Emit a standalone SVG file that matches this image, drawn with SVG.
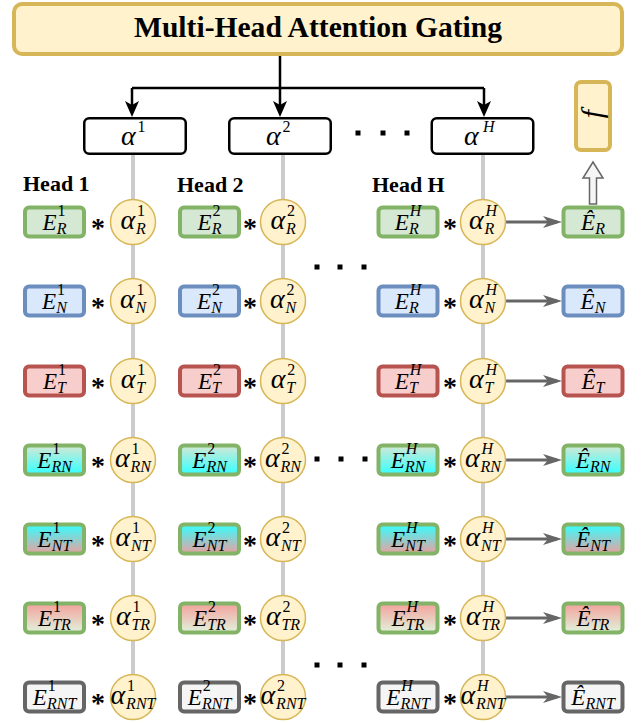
<svg xmlns="http://www.w3.org/2000/svg" width="641" height="723" viewBox="0 0 641 723" font-family="'Liberation Serif', Tinos, 'DejaVu Serif', 'Noto Serif', serif">
<style>
.bx{stroke-width:4}
.g{fill:#d5e8d4;stroke:#82b366}
.b{fill:#dae8fc;stroke:#6c8ebf}
.r{fill:#f8cecc;stroke:#b85450}
.rn{fill:url(#gRN);stroke:#82b366}
.nt{fill:url(#gNT);stroke:#82b366}
.tr{fill:url(#gTR);stroke:#82b366}
.rnt{fill:#f5f5f5;stroke:#666666}
.c{fill:#fff2cc;stroke:#d6b656;stroke-width:1.5}
.ab{fill:#ffffff;stroke:#000000;stroke-width:2.5}
.m{font-style:italic;font-size:23px}
.al{font-style:italic;font-size:28px}
.sp{font-size:16px;font-style:normal}
.si{font-size:16px;font-style:italic}
.st{font-weight:bold;font-size:28px;text-anchor:middle}
.hd{font-weight:bold;font-size:22px}
.ttl{font-weight:bold;font-size:29px;text-anchor:middle}
.blk{fill:none;stroke:#000;stroke-width:2.5}
.gl{fill:none;stroke:#cccccc;stroke-width:4}
.ga{fill:none;stroke:#666666;stroke-width:3}
</style>
<defs>
<linearGradient id="gRN" x1="0" y1="0" x2="0" y2="1"><stop offset="0" stop-color="#d5e8d4"/><stop offset="1" stop-color="#33ffff"/></linearGradient>
<linearGradient id="gNT" x1="0" y1="0" x2="0" y2="1"><stop offset="0" stop-color="#33ffff"/><stop offset="1" stop-color="#eaa0a0"/></linearGradient>
<linearGradient id="gTR" x1="0" y1="0" x2="0" y2="1"><stop offset="0" stop-color="#f4a09c"/><stop offset="1" stop-color="#e0f3dc"/></linearGradient>
<marker id="ah" markerUnits="userSpaceOnUse" markerWidth="16" markerHeight="14" refX="11" refY="7" orient="auto"><path d="M0,0 L16,7 L0,14 L4,7 Z" fill="#000"/></marker>
<marker id="ag" markerUnits="userSpaceOnUse" markerWidth="19" markerHeight="12" refX="14" refY="6" orient="auto"><path d="M0,0 L19,6 L0,12 L5,6 Z" fill="#666666"/></marker>
</defs>

<g id="connectors">
<path class="gl" d="M133,155 V697 M283,155 V697 M483,155 V697"/>
<path class="blk" d="M280,56 V88 M132,88 H484"/>
<path class="blk" d="M132,88 V112" marker-end="url(#ah)"/>
<path class="blk" d="M280,88 V112" marker-end="url(#ah)"/>
<path class="blk" d="M484,88 V112" marker-end="url(#ah)"/>
<path class="ga" d="M506,222 H557" marker-end="url(#ag)"/>
<path class="ga" d="M506,301 H557" marker-end="url(#ag)"/>
<path class="ga" d="M506,381 H557" marker-end="url(#ag)"/>
<path class="ga" d="M506,460 H557" marker-end="url(#ag)"/>
<path class="ga" d="M506,539 H557" marker-end="url(#ag)"/>
<path class="ga" d="M506,618 H557" marker-end="url(#ag)"/>
<path class="ga" d="M506,697 H557" marker-end="url(#ag)"/>
<path d="M589.5,204 V178 H583 L593,162 L603,178 H596.5 V204 Z" fill="#f5f5f5" stroke="#666666" stroke-width="1.5"/>
</g>

<g id="gating">
<rect x="14" y="4" width="608" height="50" rx="8" fill="#fff2cc" stroke="#d6b656" stroke-width="4"/>
<text class="ttl" x="318" y="37" textLength="368" lengthAdjust="spacingAndGlyphs">Multi-Head Attention Gating</text>
</g>

<g id="f-box">
<rect x="576" y="82" width="34" height="68" rx="5" fill="#fff2cc" stroke="#d6b656" stroke-width="4"/>
<text class="al" transform="translate(593,114) rotate(-90)" x="0" y="9" text-anchor="middle" style="font-size:30px">f</text>
</g>

<g id="alpha-1"><rect class="ab" x="84.25" y="118.25" width="101.5" height="35.5" rx="5"/><text class="al" x="121" y="145">α<tspan class="sp" x="137.5" y="132">1</tspan></text></g>
<g id="alpha-2"><rect class="ab" x="229.25" y="118.25" width="101.5" height="35.5" rx="5"/><text class="al" x="266" y="145">α<tspan class="sp" x="282.5" y="132">2</tspan></text></g>
<g id="alpha-H"><rect class="ab" x="431.75" y="118.25" width="101.5" height="35.5" rx="5"/><text class="al" x="464" y="145">α<tspan class="si" x="483" y="132">H</tspan></text></g>

<g id="dots">
<rect x="355.5" y="130.5" width="5" height="5"/><rect x="380.5" y="130.5" width="5" height="5"/><rect x="404.5" y="130.5" width="5" height="5"/>
<rect x="314.5" y="264.5" width="5" height="5"/><rect x="337.5" y="264.5" width="5" height="5"/><rect x="361.5" y="264.5" width="5" height="5"/>
<rect x="314.5" y="456.5" width="5" height="5"/><rect x="338.5" y="456.5" width="5" height="5"/><rect x="362.5" y="456.5" width="5" height="5"/>
<rect x="314.5" y="662.5" width="5" height="5"/><rect x="337.5" y="662.5" width="5" height="5"/><rect x="361.5" y="662.5" width="5" height="5"/>
</g>

<g id="head-labels">
<text class="hd" x="23" y="191">Head 1</text>
<text class="hd" x="177" y="192">Head 2</text>
<text class="hd" x="372" y="192">Head H</text>
</g>

<g id="stars">
<text class="st" x="98" y="237">*</text><text class="st" x="250" y="237">*</text><text class="st" x="450" y="237">*</text>
<text class="st" x="98" y="316">*</text><text class="st" x="250" y="316">*</text><text class="st" x="450" y="316">*</text>
<text class="st" x="98" y="396">*</text><text class="st" x="250" y="396">*</text><text class="st" x="450" y="396">*</text>
<text class="st" x="98" y="475">*</text><text class="st" x="250" y="475">*</text><text class="st" x="450" y="475">*</text>
<text class="st" x="98" y="554">*</text><text class="st" x="250" y="554">*</text><text class="st" x="450" y="554">*</text>
<text class="st" x="98" y="633">*</text><text class="st" x="250" y="633">*</text><text class="st" x="450" y="633">*</text>
<text class="st" x="98" y="712">*</text><text class="st" x="250" y="712">*</text><text class="st" x="450" y="712">*</text>
</g>

<!-- Head 1 embeddings -->
<g id="E-R-1" transform="translate(54.5,222)"><rect class="bx g" x="-29.5" y="-14.5" width="59" height="29" rx="4"/><text class="m" x="-12" y="8">E<tspan class="sp" x="3" y="-6">1</tspan><tspan class="si" x="2.2" y="12">R</tspan></text></g>
<g id="E-N-1" transform="translate(54.5,301)"><rect class="bx b" x="-29.5" y="-14.5" width="59" height="29" rx="4"/><text class="m" x="-12.4" y="8">E<tspan class="sp" x="2.6" y="-6">1</tspan><tspan class="si" x="1.8" y="12">N</tspan></text></g>
<g id="E-T-1" transform="translate(54.5,381)"><rect class="bx r" x="-29.5" y="-14.5" width="59" height="29" rx="4"/><text class="m" x="-11.6" y="8">E<tspan class="sp" x="3.4" y="-6">1</tspan><tspan class="si" x="2.6" y="12">T</tspan></text></g>
<g id="E-RN-1" transform="translate(54.5,460)"><rect class="bx rn" x="-29.5" y="-14.5" width="59" height="29" rx="4"/><text class="m" x="-17.3" y="8">E<tspan class="sp" x="-2.3" y="-6">1</tspan><tspan class="si" x="-3.1" y="12">RN</tspan></text></g>
<g id="E-NT-1" transform="translate(54.5,539)"><rect class="bx nt" x="-29.5" y="-14.5" width="59" height="29" rx="4"/><text class="m" x="-16.9" y="8">E<tspan class="sp" x="-1.9" y="-6">1</tspan><tspan class="si" x="-2.7" y="12">NT</tspan></text></g>
<g id="E-TR-1" transform="translate(54.5,618)"><rect class="bx tr" x="-29.5" y="-14.5" width="59" height="29" rx="4"/><text class="m" x="-16.5" y="8">E<tspan class="sp" x="-1.5" y="-6">1</tspan><tspan class="si" x="-2.3" y="12">TR</tspan></text></g>
<g id="E-RNT-1" transform="translate(54.5,697)"><rect class="bx rnt" x="-29.5" y="-14.5" width="59" height="29" rx="4"/><text class="m" x="-21.7" y="8">E<tspan class="sp" x="-6.7" y="-6">1</tspan><tspan class="si" x="-7.5" y="12">RNT</tspan></text></g>

<!-- Head 1 gates -->
<g id="a-R-1" transform="translate(133,222)"><circle class="c" r="22.5"/><text class="al" x="-12.6" y="7">α<tspan class="sp" x="3.9" y="-6">1</tspan><tspan class="si" x="2.9" y="12">R</tspan></text></g>
<g id="a-N-1" transform="translate(133,301)"><circle class="c" r="22.5"/><text class="al" x="-13.1" y="7">α<tspan class="sp" x="3.4" y="-6">1</tspan><tspan class="si" x="2.4" y="12">N</tspan></text></g>
<g id="a-T-1" transform="translate(133,381)"><circle class="c" r="22.5"/><text class="al" x="-12.2" y="7">α<tspan class="sp" x="4.3" y="-6">1</tspan><tspan class="si" x="3.3" y="12">T</tspan></text></g>
<g id="a-RN-1" transform="translate(133,460)"><circle class="c" r="22.5"/><text class="al" x="-18" y="7">α<tspan class="sp" x="-1.5" y="-6">1</tspan><tspan class="si" x="-2.5" y="12">RN</tspan></text></g>
<g id="a-NT-1" transform="translate(133,539)"><circle class="c" r="22.5"/><text class="al" x="-17.5" y="7">α<tspan class="sp" x="-1" y="-6">1</tspan><tspan class="si" x="-2" y="12">NT</tspan></text></g>
<g id="a-TR-1" transform="translate(133,618)"><circle class="c" r="22.5"/><text class="al" x="-17.1" y="7">α<tspan class="sp" x="-0.6" y="-6">1</tspan><tspan class="si" x="-1.6" y="12">TR</tspan></text></g>
<g id="a-RNT-1" transform="translate(133,697)"><circle class="c" r="22.5"/><text class="al" x="-22.4" y="7">α<tspan class="sp" x="-5.9" y="-6">1</tspan><tspan class="si" x="-6.9" y="12">RNT</tspan></text></g>

<!-- Head 2 embeddings -->
<g id="E-R-2" transform="translate(209.5,222)"><rect class="bx g" x="-29.5" y="-14.5" width="59" height="29" rx="4"/><text class="m" x="-12" y="8">E<tspan class="sp" x="3" y="-6">2</tspan><tspan class="si" x="2.2" y="12">R</tspan></text></g>
<g id="E-N-2" transform="translate(209.5,301)"><rect class="bx b" x="-29.5" y="-14.5" width="59" height="29" rx="4"/><text class="m" x="-12.4" y="8">E<tspan class="sp" x="2.6" y="-6">2</tspan><tspan class="si" x="1.8" y="12">N</tspan></text></g>
<g id="E-T-2" transform="translate(209.5,381)"><rect class="bx r" x="-29.5" y="-14.5" width="59" height="29" rx="4"/><text class="m" x="-11.6" y="8">E<tspan class="sp" x="3.4" y="-6">2</tspan><tspan class="si" x="2.6" y="12">T</tspan></text></g>
<g id="E-RN-2" transform="translate(209.5,460)"><rect class="bx rn" x="-29.5" y="-14.5" width="59" height="29" rx="4"/><text class="m" x="-17.3" y="8">E<tspan class="sp" x="-2.3" y="-6">2</tspan><tspan class="si" x="-3.1" y="12">RN</tspan></text></g>
<g id="E-NT-2" transform="translate(209.5,539)"><rect class="bx nt" x="-29.5" y="-14.5" width="59" height="29" rx="4"/><text class="m" x="-16.9" y="8">E<tspan class="sp" x="-1.9" y="-6">2</tspan><tspan class="si" x="-2.7" y="12">NT</tspan></text></g>
<g id="E-TR-2" transform="translate(209.5,618)"><rect class="bx tr" x="-29.5" y="-14.5" width="59" height="29" rx="4"/><text class="m" x="-16.5" y="8">E<tspan class="sp" x="-1.5" y="-6">2</tspan><tspan class="si" x="-2.3" y="12">TR</tspan></text></g>
<g id="E-RNT-2" transform="translate(209.5,697)"><rect class="bx rnt" x="-29.5" y="-14.5" width="59" height="29" rx="4"/><text class="m" x="-21.7" y="8">E<tspan class="sp" x="-6.7" y="-6">2</tspan><tspan class="si" x="-7.5" y="12">RNT</tspan></text></g>

<!-- Head 2 gates -->
<g id="a-R-2" transform="translate(283,222)"><circle class="c" r="22.5"/><text class="al" x="-12.6" y="7">α<tspan class="sp" x="3.9" y="-6">2</tspan><tspan class="si" x="2.9" y="12">R</tspan></text></g>
<g id="a-N-2" transform="translate(283,301)"><circle class="c" r="22.5"/><text class="al" x="-13.1" y="7">α<tspan class="sp" x="3.4" y="-6">2</tspan><tspan class="si" x="2.4" y="12">N</tspan></text></g>
<g id="a-T-2" transform="translate(283,381)"><circle class="c" r="22.5"/><text class="al" x="-12.2" y="7">α<tspan class="sp" x="4.3" y="-6">2</tspan><tspan class="si" x="3.3" y="12">T</tspan></text></g>
<g id="a-RN-2" transform="translate(283,460)"><circle class="c" r="22.5"/><text class="al" x="-18" y="7">α<tspan class="sp" x="-1.5" y="-6">2</tspan><tspan class="si" x="-2.5" y="12">RN</tspan></text></g>
<g id="a-NT-2" transform="translate(283,539)"><circle class="c" r="22.5"/><text class="al" x="-17.5" y="7">α<tspan class="sp" x="-1" y="-6">2</tspan><tspan class="si" x="-2" y="12">NT</tspan></text></g>
<g id="a-TR-2" transform="translate(283,618)"><circle class="c" r="22.5"/><text class="al" x="-17.1" y="7">α<tspan class="sp" x="-0.6" y="-6">2</tspan><tspan class="si" x="-1.6" y="12">TR</tspan></text></g>
<g id="a-RNT-2" transform="translate(283,697)"><circle class="c" r="22.5"/><text class="al" x="-22.4" y="7">α<tspan class="sp" x="-5.9" y="-6">2</tspan><tspan class="si" x="-6.9" y="12">RNT</tspan></text></g>

<!-- Head H embeddings -->
<g id="E-R-H" transform="translate(408,222)"><rect class="bx g" x="-29.5" y="-14.5" width="59" height="29" rx="4"/><text class="m" x="-13.3" y="8">E<tspan class="si" x="1.7" y="-6">H</tspan><tspan class="si" x="0.9" y="12">R</tspan></text></g>
<g id="E-N-H" transform="translate(408,301)"><rect class="bx b" x="-29.5" y="-14.5" width="59" height="29" rx="4"/><text class="m" x="-13.3" y="8">E<tspan class="si" x="1.7" y="-6">H</tspan><tspan class="si" x="0.9" y="12">R</tspan></text></g>
<g id="E-T-H" transform="translate(408,381)"><rect class="bx r" x="-29.5" y="-14.5" width="59" height="29" rx="4"/><text class="m" x="-13.3" y="8">E<tspan class="si" x="1.7" y="-6">H</tspan><tspan class="si" x="0.9" y="12">T</tspan></text></g>
<g id="E-RN-H" transform="translate(408,460)"><rect class="bx rn" x="-29.5" y="-14.5" width="59" height="29" rx="4"/><text class="m" x="-17.3" y="8">E<tspan class="si" x="-2.3" y="-6">H</tspan><tspan class="si" x="-3.1" y="12">RN</tspan></text></g>
<g id="E-NT-H" transform="translate(408,539)"><rect class="bx nt" x="-29.5" y="-14.5" width="59" height="29" rx="4"/><text class="m" x="-16.9" y="8">E<tspan class="si" x="-1.9" y="-6">H</tspan><tspan class="si" x="-2.7" y="12">NT</tspan></text></g>
<g id="E-TR-H" transform="translate(408,618)"><rect class="bx tr" x="-29.5" y="-14.5" width="59" height="29" rx="4"/><text class="m" x="-16.5" y="8">E<tspan class="si" x="-1.5" y="-6">H</tspan><tspan class="si" x="-2.3" y="12">TR</tspan></text></g>
<g id="E-RNT-H" transform="translate(408,697)"><rect class="bx rnt" x="-29.5" y="-14.5" width="59" height="29" rx="4"/><text class="m" x="-21.7" y="8">E<tspan class="si" x="-6.7" y="-6">H</tspan><tspan class="si" x="-7.5" y="12">RNT</tspan></text></g>

<!-- Head H gates -->
<g id="a-R-H" transform="translate(483,222)"><circle class="c" r="22.5"/><text class="al" x="-14" y="7">α<tspan class="si" x="2.5" y="-6">H</tspan><tspan class="si" x="1.5" y="12">R</tspan></text></g>
<g id="a-N-H" transform="translate(483,301)"><circle class="c" r="22.5"/><text class="al" x="-14" y="7">α<tspan class="si" x="2.5" y="-6">H</tspan><tspan class="si" x="1.5" y="12">N</tspan></text></g>
<g id="a-T-H" transform="translate(483,381)"><circle class="c" r="22.5"/><text class="al" x="-14" y="7">α<tspan class="si" x="2.5" y="-6">H</tspan><tspan class="si" x="1.5" y="12">T</tspan></text></g>
<g id="a-RN-H" transform="translate(483,460)"><circle class="c" r="22.5"/><text class="al" x="-18" y="7">α<tspan class="si" x="-1.5" y="-6">H</tspan><tspan class="si" x="-2.5" y="12">RN</tspan></text></g>
<g id="a-NT-H" transform="translate(483,539)"><circle class="c" r="22.5"/><text class="al" x="-17.5" y="7">α<tspan class="si" x="-1" y="-6">H</tspan><tspan class="si" x="-2" y="12">NT</tspan></text></g>
<g id="a-TR-H" transform="translate(483,618)"><circle class="c" r="22.5"/><text class="al" x="-17.1" y="7">α<tspan class="si" x="-0.6" y="-6">H</tspan><tspan class="si" x="-1.6" y="12">TR</tspan></text></g>
<g id="a-RNT-H" transform="translate(483,697)"><circle class="c" r="22.5"/><text class="al" x="-22.4" y="7">α<tspan class="si" x="-5.9" y="-6">H</tspan><tspan class="si" x="-6.9" y="12">RNT</tspan></text></g>

<!-- Outputs -->
<g id="Ehat-R" transform="translate(593,222)"><rect class="bx g" x="-29.5" y="-14.5" width="59" height="29" rx="4"/><text class="m" x="-12" y="8">Ê<tspan class="si" x="2.2" y="12">R</tspan></text></g>
<g id="Ehat-N" transform="translate(593,301)"><rect class="bx b" x="-29.5" y="-14.5" width="59" height="29" rx="4"/><text class="m" x="-12.4" y="8">Ê<tspan class="si" x="1.8" y="12">N</tspan></text></g>
<g id="Ehat-T" transform="translate(593,381)"><rect class="bx r" x="-29.5" y="-14.5" width="59" height="29" rx="4"/><text class="m" x="-11.6" y="8">Ê<tspan class="si" x="2.6" y="12">T</tspan></text></g>
<g id="Ehat-RN" transform="translate(593,460)"><rect class="bx rn" x="-29.5" y="-14.5" width="59" height="29" rx="4"/><text class="m" x="-17.3" y="8">Ê<tspan class="si" x="-3.1" y="12">RN</tspan></text></g>
<g id="Ehat-NT" transform="translate(593,539)"><rect class="bx nt" x="-29.5" y="-14.5" width="59" height="29" rx="4"/><text class="m" x="-16.9" y="8">Ê<tspan class="si" x="-2.7" y="12">NT</tspan></text></g>
<g id="Ehat-TR" transform="translate(593,618)"><rect class="bx tr" x="-29.5" y="-14.5" width="59" height="29" rx="4"/><text class="m" x="-16.5" y="8">Ê<tspan class="si" x="-2.3" y="12">TR</tspan></text></g>
<g id="Ehat-RNT" transform="translate(593,697)"><rect class="bx rnt" x="-29.5" y="-14.5" width="59" height="29" rx="4"/><text class="m" x="-21.7" y="8">Ê<tspan class="si" x="-7.5" y="12">RNT</tspan></text></g>
</svg>
